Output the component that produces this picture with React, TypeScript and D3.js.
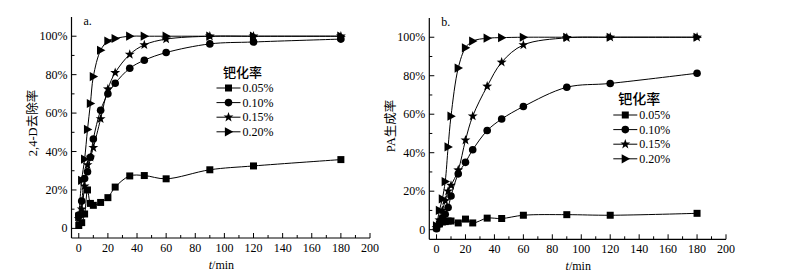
import React from "react";
import * as d3 from "d3";

const times = [0, 2, 4, 6, 8, 10, 15, 20, 25, 35, 45, 60, 90, 120, 180];
const seriesNames = ["0.05%", "0.10%", "0.15%", "0.20%"];
const markerTypes = ["square", "circle", "star", "triangle"];

// Panel a: 2,4-D removal rate (%)
const a005 = [1.5, 3, 7.5, 20, 13, 12, 13.5, 16, 21.5, 27.3, 27.5, 25.8, 30.5, 32.5, 35.8];
const a010 = [7, 14.2, 26, 29.5, 37, 46.5, 61.5, 70, 75.5, 83.3, 87.5, 91.5, 96, 97, 98.5];
const a015 = [5, 10, 22, 33, 37, 42, 57, 72.5, 81, 90.5, 95.5, 98.5, 100, 100, 100];
const a020 = [6, 25, 36, 51.5, 65, 79, 92.7, 97.5, 98.8, 100, 100, 100, 100, 100, 100];

// Panel b: PA formation rate (%)
const b005 = [1.5, 3, 4, 4.2, 4.5, 4.5, 3.5, 5.5, 3.5, 6, 5.8, 7.5, 7.8, 7.5, 8.5];
const b010 = [0.5, 3, 6, 8, 11.5, 17.5, 29, 35, 41.5, 51.5, 57.5, 64, 74, 76, 81.3];
const b015 = [1, 5, 10, 15, 20, 23, 31, 46.5, 59, 74.5, 87, 96, 99.7, 100, 100];
const b020 = [2, 10, 16, 25, 43, 59, 84, 94.5, 98, 99.5, 99.8, 100, 100, 100, 100];

const xTicks = [0, 20, 40, 60, 80, 100, 120, 140, 160, 180, 200];
const xMinor = [10, 30, 50, 70, 90, 110, 130, 150, 170, 190];
const yTicks = [0, 20, 40, 60, 80, 100];
const yMinor = [10, 30, 50, 70, 90];

const serif = "'Liberation Serif', 'Times New Roman', serif";
const cjk = "'Noto Sans CJK SC', sans-serif";

function markerPath(type: string): string {
  if (type === "square") return "M-3.5,-3.5H3.5V3.5H-3.5Z";
  if (type === "circle") {
    const r = 3.8;
    return `M${r},0A${r},${r},0,1,1,${-r},0A${r},${r},0,1,1,${r},0Z`;
  }
  if (type === "triangle") return "M4.8,0L-3.6,-4.6L-3.6,4.6Z";
  // star
  const pts: string[] = [];
  for (let i = 0; i < 10; i++) {
    const r = i % 2 === 0 ? 5.2 : 2.1;
    const ang = -Math.PI / 2 + (i * Math.PI) / 5;
    pts.push(`${(r * Math.cos(ang)).toFixed(2)},${(r * Math.sin(ang)).toFixed(2)}`);
  }
  return "M" + pts.join("L") + "Z";
}

type PanelProps = {
  left: number;
  right: number;
  top: number;
  bottom: number;
  series: number[][];
  label: string;
  yLabel: string;
  yLabelX: number;
  yLabelY: number;
  legendX: number;
  legendY: number;
  legendTitleSize: number;
};

function Panel(p: PanelProps) {
  const x = d3.scaleLinear().domain([-5, 200]).range([p.left, p.right]);
  const y = d3.scaleLinear().domain([-5, 110]).range([p.bottom, p.top]);
  const line = d3
    .line<[number, number]>()
    .x((d) => x(d[0]))
    .y((d) => y(d[1]))
    .curve(d3.curveCatmullRom.alpha(0.5));

  const legendRows = [0, 1, 2, 3].map((i) => p.legendY + 16 + i * 14.6);

  return (
    <g>
      {/* axes */}
      <line x1={p.left} x2={p.left} y1={p.top} y2={p.bottom} stroke="#000" strokeWidth={1.2} />
      <line x1={p.left} x2={x(200)} y1={p.bottom} y2={p.bottom} stroke="#000" strokeWidth={1.2} />
      {xTicks.map((t) => (
        <g key={"xt" + t}>
          <line x1={x(t)} x2={x(t)} y1={p.bottom} y2={p.bottom - 5} stroke="#000" strokeWidth={1} />
          <text x={x(t)} y={p.bottom + 14} textAnchor="middle" fontFamily={serif} fontSize={12}>
            {t}
          </text>
        </g>
      ))}
      {xMinor.map((t) => (
        <line key={"xm" + t} x1={x(t)} x2={x(t)} y1={p.bottom} y2={p.bottom - 3} stroke="#000" strokeWidth={1} />
      ))}
      {yTicks.map((t) => (
        <g key={"yt" + t}>
          <line x1={p.left} x2={p.left + 5} y1={y(t)} y2={y(t)} stroke="#000" strokeWidth={1} />
          <text x={p.left - 4} y={y(t) + 4} textAnchor="end" fontFamily={serif} fontSize={12}>
            {t === 0 ? "0" : `${t}%`}
          </text>
        </g>
      ))}
      {yMinor.map((t) => (
        <line key={"ym" + t} x1={p.left} x2={p.left + 3} y1={y(t)} y2={y(t)} stroke="#000" strokeWidth={1} />
      ))}
      <text x={p.left + 12} y={p.top + 8} fontFamily={serif} fontSize={12}>
        {p.label}
      </text>
      <text
        transform={`translate(${p.yLabelX},${p.yLabelY}) rotate(-90)`}
        textAnchor="middle"
        fontSize={12.5}
      >
        <tspan fontFamily={serif}>{p.yLabel.replace(/[^\x00-\x7F]/g, "")}</tspan>
        <tspan fontFamily={cjk}>{p.yLabel.replace(/[\x00-\x7F]/g, "")}</tspan>
      </text>
      <text x={(x(0) + x(200)) / 2 - 3} y={p.bottom + 31} textAnchor="middle" fontFamily={serif} fontSize={12}>
        <tspan fontStyle="italic">t</tspan>/min
      </text>

      {/* series */}
      {p.series.map((vals, si) => {
        const pts = times.map((t, i) => [t, vals[i]] as [number, number]);
        return (
          <g key={"s" + si}>
            <path d={line(pts) || ""} fill="none" stroke="#000" strokeWidth={1} />
            {pts.map((d, i) => (
              <path
                key={i}
                d={markerPath(markerTypes[si])}
                transform={`translate(${x(d[0])},${y(d[1])})`}
                fill="#000"
              />
            ))}
          </g>
        );
      })}

      {/* legend */}
      <text x={p.legendX + 26} y={p.legendY + 5} textAnchor="middle" fontFamily={cjk} fontSize={p.legendTitleSize} fontWeight={500}>
        钯化率
      </text>
      {seriesNames.map((name, i) => (
        <g key={"lg" + i}>
          <line x1={p.legendX} x2={p.legendX + 24} y1={legendRows[i]} y2={legendRows[i]} stroke="#000" strokeWidth={1} />
          <path d={markerPath(markerTypes[i])} transform={`translate(${p.legendX + 12},${legendRows[i]})`} fill="#000" />
          <text x={p.legendX + 26} y={legendRows[i] + 4} fontFamily={serif} fontSize={12}>
            {name}
          </text>
        </g>
      ))}
    </g>
  );
}

export default function App() {
  return (
    <svg width={808} height={276} style={{ position: "absolute", left: 0, top: 0, background: "#fff" }}>
      <rect width={808} height={276} fill="#fff" />
      <Panel
        left={71.5}
        right={370}
        top={17}
        bottom={238}
        series={[a005, a010, a015, a020]}
        label="a."
        yLabel="2,4-D去除率"
        yLabelX={37}
        yLabelY={123}
        legendX={216.5}
        legendY={72}
        legendTitleSize={13}
      />
      <Panel
        left={429.3}
        right={726}
        top={18}
        bottom={239.3}
        series={[b005, b010, b015, b020]}
        label="b."
        yLabel="PA生成率"
        yLabelX={395}
        yLabelY={126}
        legendX={613.3}
        legendY={99}
        legendTitleSize={14}
      />
    </svg>
  );
}
